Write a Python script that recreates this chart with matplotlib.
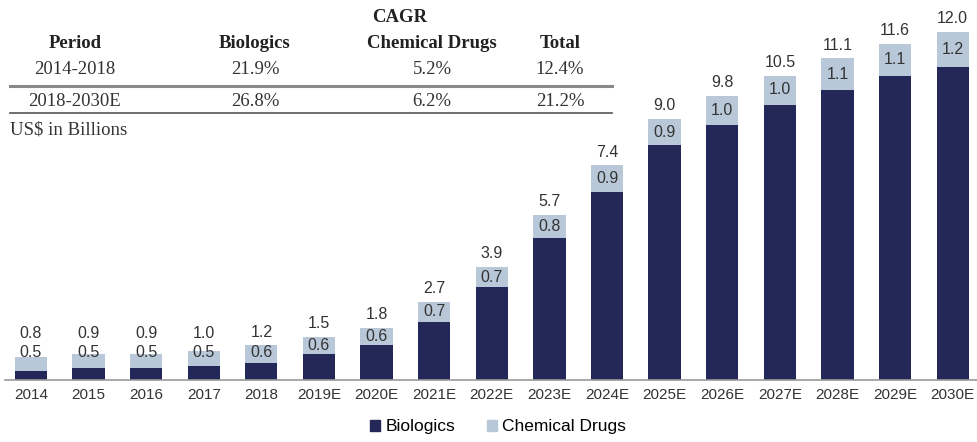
import matplotlib.pyplot as plt
from matplotlib.patches import Patch

years = ['2014', '2015', '2016', '2017', '2018', '2019E', '2020E', '2021E', '2022E',
         '2023E', '2024E', '2025E', '2026E', '2027E', '2028E', '2029E', '2030E']
biologics = [0.3, 0.4, 0.4, 0.5, 0.6, 0.9, 1.2, 2.0, 3.2, 4.9, 6.5, 8.1, 8.8, 9.5, 10.0, 10.5, 10.8]
chemical = [0.5, 0.5, 0.5, 0.5, 0.6, 0.6, 0.6, 0.7, 0.7, 0.8, 0.9, 0.9, 1.0, 1.0, 1.1, 1.1, 1.2]
totals = [0.8, 0.9, 0.9, 1.0, 1.2, 1.5, 1.8, 2.7, 3.9, 5.7, 7.4, 9.0, 9.8, 10.5, 11.1, 11.6, 12.0]

cagr_header = ['Period', 'Biologics', 'Chemical Drugs', 'Total']
cagr_rows = [['2014-2018', '21.9%', '5.2%', '12.4%'],
             ['2018-2030E', '26.8%', '6.2%', '21.2%']]

dark = '#232858'
light = '#b9c8d8'
sans = ['Liberation Sans', 'DejaVu Sans']
serif = ['Liberation Serif', 'DejaVu Serif']

W, H = 978, 442
fig = plt.figure(figsize=(W / 100, H / 100), dpi=100)
ax = fig.add_axes([5 / W, (H - 380) / H, 973 / W, 377 / H])

x = list(range(len(years)))
ax.bar(x, biologics, width=0.56, color=dark)
ax.bar(x, chemical, width=0.56, bottom=biologics, color=light)

for i in x:
    yc = max(biologics[i] + chemical[i] / 2, 0.95)
    ax.text(i, yc, f'{chemical[i]:.1f}', ha='center', va='center', fontsize=11.5,
            color='#333333', family=sans)
    ytop = max(biologics[i] + chemical[i], yc + 0.2)
    ax.annotate(f'{totals[i]:.1f}', (i, ytop), xytext=(0, 4), textcoords='offset points',
                ha='center', va='bottom', fontsize=11.5, color='#333333', family=sans)

ax.set_xlim(-0.45, 16.44)
ax.set_ylim(0, 13)
ax.set_yticks([])
ax.set_xticks(x)
ax.set_xticklabels(years, fontsize=11, color='#333333', family=sans)
ax.tick_params(axis='x', length=0, pad=6)
for s in ['top', 'right', 'left']:
    ax.spines[s].set_visible(False)
ax.spines['bottom'].set_color('#999999')
ax.spines['bottom'].set_linewidth(1.2)

# CAGR table
def fx(px):
    return px / W

def fy(py):
    return 1 - py / H

cols = [75, 255, 432, 560]
fs = 13.5
fig.text(fx(400), fy(18), 'CAGR', ha='center', va='center', fontsize=fs,
         fontweight='bold', family=serif, color='#222222')
for c, h in zip(cols, cagr_header):
    fig.text(fx(c), fy(44), h, ha='center', va='center', fontsize=fs,
             fontweight='bold', family=serif, color='#222222')
for r, py in zip(cagr_rows, [70, 101]):
    for c, v in zip(cols, r):
        fig.text(fx(c), fy(py), v, ha='center', va='center', fontsize=fs,
                 family=serif, color='#333333')
fig.add_artist(plt.Line2D([fx(10), fx(612)], [fy(86), fy(86)], color='#888888', lw=2.2))
fig.add_artist(plt.Line2D([fx(10), fx(612)], [fy(113), fy(113)], color='#555555', lw=1.2))
fig.text(fx(10), fy(130), 'US$ in Billions', ha='left', va='center', fontsize=fs,
         family=serif, color='#333333')

handles = [Patch(color=dark, label='Biologics'), Patch(color=light, label='Chemical Drugs')]
fig.legend(handles=handles, loc='center', bbox_to_anchor=(fx(498), fy(427)), ncol=2,
           frameon=False, prop={'family': sans, 'size': 12.5}, handlelength=0.6,
           handleheight=0.6, handletextpad=0.3, columnspacing=1.8)

fig.savefig('out.png', dpi=100)
